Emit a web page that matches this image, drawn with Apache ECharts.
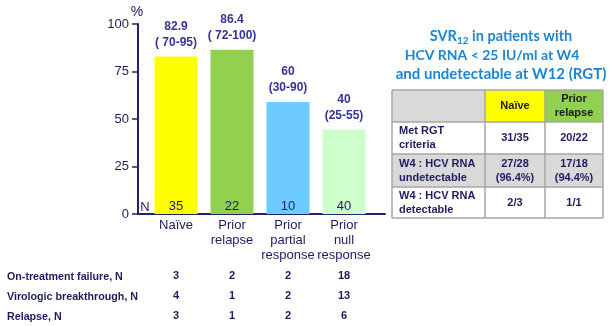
<!DOCTYPE html>
<html><head><meta charset="utf-8">
<script src="https://cdn.jsdelivr.net/npm/echarts@6/dist/echarts.min.js"></script>
<style>html,body{margin:0;padding:0;background:#fff}#c{width:610px;height:326px}</style>
</head><body><div id="c"></div>
<script>
// ---- data ----
const categories = ['Naïve', 'Prior\nrelapse', 'Prior\npartial\nresponse', 'Prior\nnull\nresponse'];
const svrValues = [82.9, 86.4, 59, 44.5];
const svrLabels = ['82.9', '86.4', '60', '40'];
const ciLabels = ['( 70-95)', '( 72-100)', '(30-90)', '(25-55)'];
const nValues = [35, 22, 10, 40];
const barColors = ['#ffff00', '#92d050', '#6dcbff', '#ccffcc'];
const yTicks = [0, 25, 50, 75, 100];
const rowNames = ['On-treatment failure, N', 'Virologic breakthrough, N', 'Relapse, N'];
const onTreatmentFailure = [3, 2, 2, 18];
const virologicBreakthrough = [4, 1, 2, 13];
const relapseN = [3, 1, 2, 6];
const tableHeaders = ['', 'Naïve', 'Prior\nrelapse'];
const tableRowLabels = ['Met RGT\ncriteria', 'W4 : HCV RNA\nundetectable', 'W4 : HCV RNA\ndetectable'];
const tableNaive = ['31/35', '27/28\n(96.4%)', '2/3'];
const tableRelapse = ['20/22', '17/18\n(94.4%)', '1/1'];

const navy = '#1c1c60';
const rowData = [onTreatmentFailure, virologicBreakthrough, relapseN];

// ---- table graphics ----
const colX = [392, 485, 545, 603];
const rowY = [90, 122, 154, 187, 218];
const headFill = ['#d9d9d9', '#ffff00', '#92d050'];
const rowFill = ['#ffffff', '#d9d9d9', '#ffffff'];
const tFont = 'bold 11px Arial';
const g = [];
for (let c = 0; c < 3; c++) {
  g.push({type:'rect', shape:{x:colX[c], y:rowY[0], width:colX[c+1]-colX[c], height:rowY[1]-rowY[0]}, style:{fill:headFill[c]}});
  g.push({type:'text', x:(colX[c]+colX[c+1])/2, y:(rowY[0]+rowY[1])/2, style:{text:tableHeaders[c], fill:'#1a1a1a', font:tFont, lineHeight:14, align:'center', verticalAlign:'middle'}});
}
for (let r = 0; r < 3; r++) {
  g.push({type:'rect', shape:{x:colX[0], y:rowY[r+1], width:colX[3]-colX[0], height:rowY[r+2]-rowY[r+1]}, style:{fill:rowFill[r]}});
  const cy = (rowY[r+1]+rowY[r+2])/2;
  g.push({type:'text', x:399, y:cy, style:{text:tableRowLabels[r], fill:navy, font:tFont, lineHeight:14, align:'left', verticalAlign:'middle'}});
  g.push({type:'text', x:(colX[1]+colX[2])/2, y:cy, style:{text:tableNaive[r], fill:navy, font:tFont, lineHeight:14, align:'center', verticalAlign:'middle'}});
  g.push({type:'text', x:(colX[2]+colX[3])/2, y:cy, style:{text:tableRelapse[r], fill:navy, font:tFont, lineHeight:14, align:'center', verticalAlign:'middle'}});
}
rowY.forEach(y => g.push({type:'line', shape:{x1:colX[0], y1:y, x2:colX[3], y2:y}, style:{stroke:'#a6a6a6', lineWidth:1.5}}));
colX.forEach(x => g.push({type:'line', shape:{x1:x, y1:rowY[0], x2:x, y2:rowY[4]}, style:{stroke:'#a6a6a6', lineWidth:1.5}}));

// title
const tColor = '#1a86d4';
g.push({type:'text', x:501, y:36, style:{text:'{t|SVR}{s|12}{t| in patients with}', align:'center', verticalAlign:'middle',
  rich:{t:{fontFamily:'Lato', fontWeight:'bold', fontSize:14.5, fill:tColor, lineHeight:20},
        s:{fontFamily:'Lato', fontWeight:'bold', fontSize:10, fill:tColor, lineHeight:20, padding:[9,0,0,0]}}}});
g.push({type:'text', x:492, y:55, style:{text:'HCV RNA < 25 IU/ml at W4', fontFamily:'Lato', fontWeight:'bold', fontSize:14, fill:tColor, align:'center', verticalAlign:'middle'}});
g.push({type:'text', x:501, y:74, style:{text:'and undetectable at W12 (RGT)', fontFamily:'Lato', fontWeight:'bold', fontSize:15, fill:tColor, align:'center', verticalAlign:'middle'}});

// % and N
g.push({type:'text', x:137, y:12, style:{text:'%', font:'14px Arial', fill:navy, align:'center', verticalAlign:'middle'}});
g.push({type:'text', x:145, y:207, style:{text:'N', font:'13px Arial', fill:navy, align:'center', verticalAlign:'middle'}});
// row names
rowNames.forEach((t, i) => g.push({type:'text', x:7, y:277 + i*20, style:{text:t, font:'bold 10.7px Arial', fill:navy, align:'left', verticalAlign:'middle'}}));

const chart = echarts.init(document.getElementById('c'), null, {renderer:'canvas'});
const rowAxes = rowData.map((arr, i) => ({
  type:'category', gridIndex:1, data:categories, position:'bottom', offset:52 + i*20,
  axisLine:{show:false}, axisTick:{show:false}, splitLine:{show:false},
  axisLabel:{margin:4, interval:0, fontFamily:'Arial', fontWeight:'bold', fontSize:11, color:navy, formatter:(v, idx) => String(arr[idx])}
}));

chart.setOption({
  animation:false,
  grid:[
    {left:138, right:225, top:24, bottom:112},
    {left:148, right:238, top:24, bottom:112}
  ],
  xAxis:[
    {type:'value', gridIndex:0, min:0, max:1, axisLine:{show:true, lineStyle:{color:'#22226e', width:2}}, axisTick:{show:false}, axisLabel:{show:false}, splitLine:{show:false}},
    {type:'category', gridIndex:1, data:categories, axisLine:{show:false}, axisTick:{show:false},
      axisLabel:{margin:4, interval:0, fontFamily:'Arial', fontSize:13, lineHeight:15, color:navy}},
    ...rowAxes
  ],
  yAxis:[
    {type:'value', gridIndex:0, min:0, max:100, interval:25,
      axisLine:{show:true, lineStyle:{color:'#22226e', width:2}},
      axisTick:{show:true, inside:false, length:6, lineStyle:{color:'#22226e', width:1.5}},
      axisLabel:{margin:9, fontFamily:'Arial', fontSize:13, color:navy, formatter:v => yTicks.includes(v) ? String(v) : ''},
      splitLine:{show:false}},
    {type:'value', gridIndex:1, min:0, max:100, show:false}
  ],
  series:[
    {type:'bar', xAxisIndex:1, yAxisIndex:1, barWidth:43,
      data:svrValues.map((v, i) => ({value:v, itemStyle:{color:barColors[i]}})),
      label:{show:true, position:'top', distance:6, fontFamily:'Arial', fontWeight:'bold', fontSize:12, lineHeight:16, color:'#333399',
        formatter:p => svrLabels[p.dataIndex] + '\n' + ciLabels[p.dataIndex]}},
    {type:'bar', xAxisIndex:1, yAxisIndex:1, barWidth:43, barGap:'-100%',
      data:svrValues, itemStyle:{color:'rgba(0,0,0,0)'},
      label:{show:true, position:'insideBottom', distance:1, fontFamily:'Arial', fontSize:13, color:navy,
        formatter:p => String(nValues[p.dataIndex])}}
  ],
  graphic:g
});
</script>
</body></html>
